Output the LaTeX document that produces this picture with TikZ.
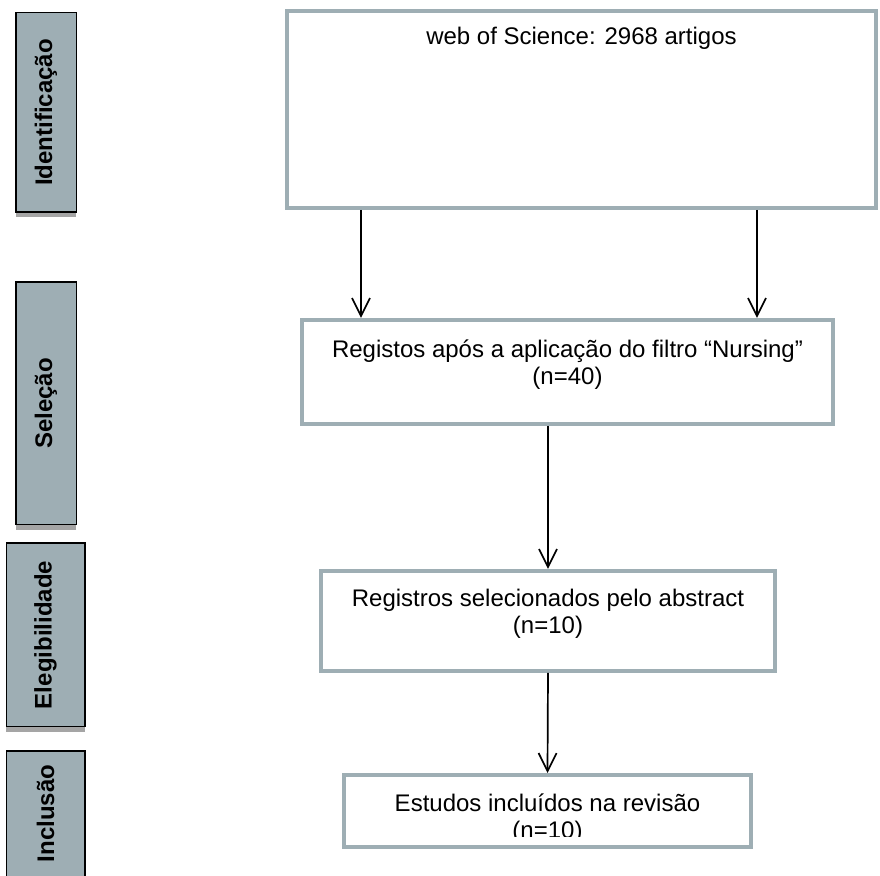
\documentclass[tikz,border=0pt]{standalone}
\usepackage{fontspec}
\setmainfont{Liberation Sans}
\usepackage{graphicx}
\usetikzlibrary{arrows.meta,positioning,shadows}
\definecolor{prismagray}{RGB}{158,174,180}
\definecolor{shadowgray}{RGB}{165,165,165}
\tikzset{
  phasebox/.style={draw=black, line width=0.75pt, fill=prismagray, inner sep=0pt,
    font=\fontsize{12pt}{14pt}\selectfont\bfseries,
    drop shadow={shadow xshift=0pt, shadow yshift=-2.5pt, fill=shadowgray, opacity=1}},
  flowbox/.style={draw=prismagray, line width=2pt, fill=white, inner sep=0pt},
  flowtext/.style={align=center, inner sep=0pt, font=\fontsize{12pt}{13.6pt}\selectfont},
  flowarrow/.style={-{Straight Barb[length=9pt,width=9pt]}, line width=0.85pt}
}
\begin{document}
\begin{tikzpicture}[x=0.5pt, y=-0.5pt]
  \useasboundingbox (0,0) rectangle (880,876);
  % phases on the left
  \node[phasebox, minimum width=30.25pt, minimum height=99.75pt] (ident) at (46,112.5) {\rotatebox{90}{Identificação}};
  \node[phasebox, minimum width=30.25pt, minimum height=121.25pt] (selec) at (46,403.5) {\rotatebox{90}{Seleção}};
  \node[phasebox, minimum width=39.25pt, minimum height=91.75pt] (eleg) at (45.5,635) {\rotatebox{90}{Elegibilidade}};
  \node[phasebox, minimum width=39.25pt, minimum height=74.5pt, text depth=12pt] (incl) at (45.5,825.5) {\rotatebox{90}{Inclusão}};
  % flow boxes
  \node[flowbox, minimum width=294.5pt, minimum height=98.5pt] (srch) at (581.5,109.5) {};
  \node[flowtext] (srchtxt) at (581.5,38) {web of Science: 2968 artigos};
  \node[flowbox, minimum width=265.5pt, minimum height=52pt] (filt) at (567.5,372) {};
  \node[flowtext] (filttxt) at (567.5,365) {Registos após a aplicação do filtro “Nursing”\\(n=40)};
  \node[flowbox, minimum width=227pt, minimum height=50pt] (abst) at (548,621) {};
  \node[flowtext] (absttxt) at (548,614) {Registros selecionados pelo abstract\\(n=10)};
  \node[flowbox, minimum width=203.5pt, minimum height=36pt] (incs) at (547.5,811) {};
  \begin{scope}
    \clip (346,777) rectangle (749,837);
    \node[flowtext] (incstxt) at (547.5,819) {Estudos incluídos na revisão\\(n=10)};
  \end{scope}
  % arrows
  \coordinate (la) at (361,0);
  \coordinate (ra) at (757,0);
  \draw[flowarrow] (srch.south -| la) -- (filt.north -| la);
  \draw[flowarrow] (srch.south -| ra) -- (filt.north -| ra);
  \draw[flowarrow] (filt.south -| abst) -- (abst.north);
  \draw[flowarrow] (abst.south) -- (incs.north);
\end{tikzpicture}
\end{document}
